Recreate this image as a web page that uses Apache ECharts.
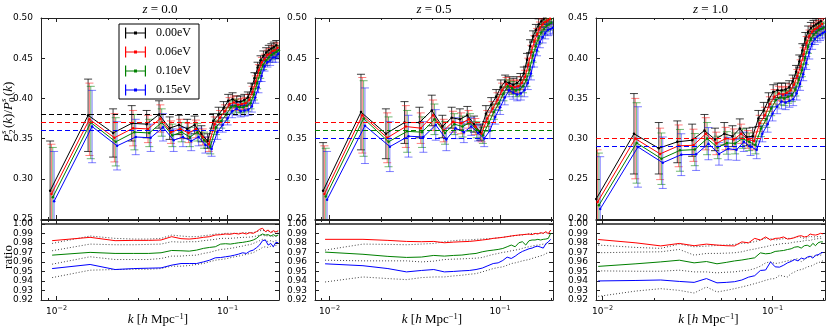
<!DOCTYPE html>
<html>
<head>
<meta charset="utf-8">
<script src="https://cdn.jsdelivr.net/npm/echarts@6/dist/echarts.min.js"></script>
<style>
  html, body { margin: 0; padding: 0; background: #fff; }
  #chart { width: 830px; height: 334px; }
</style>
</head>
<body>
<div id="chart"></div>
<script>
// ── DATA ───────────────────────────────────────────
const massLabels = ['0.00eV', '0.06eV', '0.10eV', '0.15eV'];
const massColors = ['#000000', '#ff0000', '#008000', '#0000ff'];
const errColors  = ['rgba(0,0,0,0.75)', 'rgba(255,0,0,0.5)', 'rgba(0,128,0,0.55)', 'rgba(0,0,255,0.5)'];
const redshifts  = ['0.0', '0.5', '1.0'];

const kValues = [0.00942, 0.01571, 0.02199, 0.02827, 0.03456, 0.04084, 0.04712, 0.05341, 0.05969, 0.06597,
  0.07226, 0.07854, 0.08482, 0.09111, 0.09739, 0.10367, 0.10996, 0.11624, 0.12252, 0.12881,
  0.13509, 0.14137, 0.14765, 0.15394, 0.16022, 0.16650, 0.17279, 0.17907, 0.18535, 0.19164, 0.19792];

const xMajorTicks = [0.01, 0.1];
const xMinorTicks = [0.008, 0.009, 0.02, 0.03, 0.04, 0.05, 0.06, 0.07, 0.08, 0.09, 0.2];
const upperTicksA = [0.25, 0.30, 0.35, 0.40, 0.45, 0.50];
const upperTicksB = [0.20, 0.25, 0.30, 0.35, 0.40, 0.45];
const ratioTicks  = [0.92, 0.93, 0.94, 0.95, 0.96, 0.97, 0.98, 0.99, 1.00];

// z = 0.0
const z00_m000 = [0.285, 0.379, 0.357, 0.369, 0.368, 0.380, 0.363, 0.367, 0.362, 0.367, 0.356, 0.347, 0.372, 0.380, 0.388, 0.397, 0.399, 0.396, 0.396, 0.398, 0.401, 0.412, 0.425, 0.438, 0.447, 0.453, 0.457, 0.460, 0.462, 0.464, 0.466];
const z00_m006 = [0.281, 0.374, 0.351, 0.363, 0.362, 0.375, 0.358, 0.362, 0.357, 0.362, 0.352, 0.343, 0.368, 0.376, 0.384, 0.393, 0.395, 0.392, 0.393, 0.394, 0.398, 0.408, 0.421, 0.435, 0.445, 0.449, 0.454, 0.456, 0.459, 0.460, 0.463];
const z00_m010 = [0.277, 0.370, 0.346, 0.358, 0.357, 0.370, 0.354, 0.358, 0.352, 0.358, 0.348, 0.340, 0.364, 0.372, 0.380, 0.389, 0.391, 0.389, 0.389, 0.391, 0.394, 0.405, 0.419, 0.432, 0.442, 0.447, 0.451, 0.454, 0.456, 0.458, 0.460];
const z00_m015 = [0.272, 0.365, 0.341, 0.352, 0.351, 0.364, 0.348, 0.352, 0.347, 0.352, 0.342, 0.337, 0.358, 0.367, 0.375, 0.384, 0.387, 0.384, 0.385, 0.386, 0.390, 0.401, 0.414, 0.428, 0.440, 0.445, 0.447, 0.451, 0.451, 0.455, 0.457];
const z00Err   = [0.062, 0.045, 0.030, 0.022, 0.017, 0.017, 0.014, 0.012, 0.012, 0.011, 0.010, 0.009, 0.009, 0.009, 0.008, 0.008, 0.008, 0.007, 0.007, 0.007, 0.007, 0.007, 0.007, 0.007, 0.006, 0.006, 0.006, 0.006, 0.006, 0.006, 0.006];
const z00Level = [0.3754, 0.3688, 0.3629, 0.3571];
const z00Ratio006 = [0.9823, 0.9858, 0.9823, 0.9826, 0.9826, 0.9830, 0.9865, 0.9844, 0.9840, 0.9847, 0.9858, 0.9865, 0.9882, 0.9886, 0.9893, 0.9890, 0.9900, 0.9893, 0.9904, 0.9893, 0.9907, 0.9900, 0.9918, 0.9942, 0.9953, 0.9918, 0.9935, 0.9907, 0.9928, 0.9914, 0.9928];
const z00Ratio010 = [0.9671, 0.9700, 0.9689, 0.9689, 0.9689, 0.9696, 0.9720, 0.9717, 0.9713, 0.9724, 0.9742, 0.9752, 0.9759, 0.9787, 0.9791, 0.9787, 0.9794, 0.9801, 0.9805, 0.9812, 0.9819, 0.9830, 0.9847, 0.9875, 0.9893, 0.9882, 0.9886, 0.9872, 0.9886, 0.9872, 0.9882];
const z00Ratio015 = [0.9530, 0.9573, 0.9520, 0.9530, 0.9534, 0.9537, 0.9566, 0.9583, 0.9583, 0.9583, 0.9600, 0.9618, 0.9643, 0.9646, 0.9654, 0.9661, 0.9671, 0.9682, 0.9696, 0.9689, 0.9713, 0.9724, 0.9749, 0.9777, 0.9823, 0.9830, 0.9777, 0.9794, 0.9759, 0.9805, 0.9801];
const z00Dot1 = [0.9794, 0.9872, 0.9847, 0.9840, 0.9840, 0.9847, 0.9882, 0.9872, 0.9865, 0.9865, 0.9875, 0.9882, 0.9893, 0.9893, 0.9900, 0.9900, 0.9900, 0.9900, 0.9904, 0.9907, 0.9907, 0.9907, 0.9918, 0.9925, 0.9935, 0.9918, 0.9918, 0.9918, 0.9911, 0.9918, 0.9914];
const z00Dot2 = [0.9717, 0.9787, 0.9780, 0.9780, 0.9784, 0.9787, 0.9812, 0.9808, 0.9812, 0.9812, 0.9823, 0.9830, 0.9837, 0.9847, 0.9847, 0.9847, 0.9851, 0.9854, 0.9858, 0.9858, 0.9861, 0.9865, 0.9872, 0.9882, 0.9882, 0.9872, 0.9875, 0.9872, 0.9865, 0.9868, 0.9865];
const z00Dot3 = [0.9576, 0.9654, 0.9625, 0.9625, 0.9625, 0.9636, 0.9661, 0.9661, 0.9668, 0.9671, 0.9689, 0.9700, 0.9717, 0.9731, 0.9735, 0.9742, 0.9749, 0.9759, 0.9766, 0.9777, 0.9780, 0.9794, 0.9808, 0.9823, 0.9837, 0.9830, 0.9812, 0.9823, 0.9812, 0.9823, 0.9815];
const z00Dot4 = [0.9435, 0.9513, 0.9520, 0.9523, 0.9523, 0.9530, 0.9555, 0.9555, 0.9562, 0.9573, 0.9583, 0.9601, 0.9618, 0.9625, 0.9632, 0.9643, 0.9654, 0.9661, 0.9671, 0.9678, 0.9689, 0.9696, 0.9717, 0.9731, 0.9752, 0.9759, 0.9752, 0.9766, 0.9759, 0.9773, 0.9773];

// z = 0.5
const z05_m000 = [0.285, 0.383, 0.356, 0.370, 0.370, 0.385, 0.365, 0.376, 0.374, 0.379, 0.368, 0.358, 0.381, 0.392, 0.402, 0.414, 0.421, 0.419, 0.417, 0.419, 0.423, 0.431, 0.448, 0.465, 0.477, 0.485, 0.492, 0.496, 0.499, 0.501, 0.503];
const z05_m006 = [0.281, 0.379, 0.351, 0.365, 0.363, 0.379, 0.360, 0.371, 0.369, 0.374, 0.365, 0.356, 0.375, 0.387, 0.398, 0.410, 0.418, 0.415, 0.414, 0.415, 0.419, 0.427, 0.442, 0.458, 0.471, 0.480, 0.488, 0.492, 0.495, 0.497, 0.499];
const z05_m010 = [0.278, 0.375, 0.346, 0.359, 0.358, 0.374, 0.357, 0.368, 0.365, 0.370, 0.361, 0.354, 0.369, 0.383, 0.394, 0.406, 0.415, 0.413, 0.410, 0.411, 0.415, 0.423, 0.436, 0.453, 0.465, 0.475, 0.482, 0.486, 0.490, 0.492, 0.494];
const z05_m015 = [0.274, 0.366, 0.340, 0.353, 0.352, 0.367, 0.349, 0.363, 0.358, 0.365, 0.357, 0.350, 0.360, 0.377, 0.389, 0.401, 0.410, 0.407, 0.405, 0.406, 0.410, 0.419, 0.431, 0.447, 0.460, 0.470, 0.476, 0.481, 0.485, 0.486, 0.488];
const z05Err   = [0.060, 0.047, 0.031, 0.026, 0.019, 0.019, 0.014, 0.013, 0.013, 0.011, 0.010, 0.010, 0.010, 0.009, 0.009, 0.009, 0.008, 0.008, 0.008, 0.008, 0.008, 0.008, 0.008, 0.008, 0.007, 0.007, 0.007, 0.007, 0.007, 0.007, 0.007];
const z05Level = [0.373, 0.3654, 0.3596, 0.353];
const z05Ratio006 = [0.9837, 0.9837, 0.9826, 0.9815, 0.9812, 0.9815, 0.9801, 0.9808, 0.9812, 0.9815, 0.9822, 0.9830, 0.9837, 0.9847, 0.9852, 0.9858, 0.9865, 0.9872, 0.9878, 0.9882, 0.9886, 0.9889, 0.9893, 0.9886, 0.9900, 0.9893, 0.9907, 0.9900, 0.9918, 0.9896, 0.9935];
const z05Ratio010 = [0.9703, 0.9680, 0.9658, 0.9647, 0.9651, 0.9668, 0.9661, 0.9668, 0.9672, 0.9682, 0.9689, 0.9706, 0.9717, 0.9724, 0.9731, 0.9741, 0.9759, 0.9777, 0.9759, 0.9801, 0.9812, 0.9777, 0.9822, 0.9830, 0.9830, 0.9837, 0.9830, 0.9837, 0.9840, 0.9847, 0.9900];
const z05Ratio015 = [0.9580, 0.9560, 0.9530, 0.9495, 0.9510, 0.9520, 0.9495, 0.9500, 0.9506, 0.9510, 0.9520, 0.9535, 0.9560, 0.9583, 0.9590, 0.9615, 0.9650, 0.9636, 0.9660, 0.9689, 0.9710, 0.9724, 0.9738, 0.9745, 0.9759, 0.9765, 0.9755, 0.9745, 0.9790, 0.9810, 0.9837];
const z05Dot1 = [0.9724, 0.9787, 0.9784, 0.9780, 0.9787, 0.9794, 0.9812, 0.9823, 0.9830, 0.9830, 0.9837, 0.9840, 0.9844, 0.9847, 0.9854, 0.9858, 0.9865, 0.9872, 0.9875, 0.9882, 0.9882, 0.9889, 0.9893, 0.9900, 0.9893, 0.9900, 0.9900, 0.9900, 0.9907, 0.9900, 0.9907];
const z05Dot2 = [0.9618, 0.9611, 0.9611, 0.9611, 0.9600, 0.9608, 0.9625, 0.9629, 0.9632, 0.9636, 0.9639, 0.9646, 0.9664, 0.9678, 0.9689, 0.9700, 0.9706, 0.9717, 0.9724, 0.9731, 0.9742, 0.9752, 0.9759, 0.9766, 0.9773, 0.9777, 0.9780, 0.9787, 0.9787, 0.9791, 0.9794];
const z05Dot3 = [0.9389, 0.9442, 0.9425, 0.9414, 0.9435, 0.9442, 0.9442, 0.9453, 0.9460, 0.9470, 0.9477, 0.9495, 0.9513, 0.9530, 0.9541, 0.9548, 0.9565, 0.9583, 0.9590, 0.9600, 0.9611, 0.9618, 0.9625, 0.9636, 0.9646, 0.9654, 0.9664, 0.9671, 0.9689, 0.9696, 0.9706];

// z = 1.0
const z10_m000 = [0.225, 0.306, 0.288, 0.296, 0.298, 0.310, 0.299, 0.306, 0.303, 0.3125, 0.302, 0.303, 0.325, 0.335, 0.348, 0.358, 0.360, 0.360, 0.361, 0.364, 0.371, 0.383, 0.396, 0.410, 0.424, 0.433, 0.4375, 0.440, 0.442, 0.444, 0.446];
const z10_m006 = [0.221, 0.300, 0.281, 0.291, 0.2917, 0.306, 0.294, 0.300, 0.299, 0.306, 0.299, 0.297, 0.319, 0.329, 0.343, 0.352, 0.356, 0.355, 0.357, 0.360, 0.367, 0.378, 0.390, 0.405, 0.419, 0.428, 0.433, 0.436, 0.438, 0.440, 0.4425];
const z10_m010 = [0.217, 0.2946, 0.275, 0.2854, 0.2863, 0.300, 0.289, 0.2946, 0.294, 0.300, 0.296, 0.292, 0.3125, 0.324, 0.3375, 0.348, 0.351, 0.350, 0.352, 0.354, 0.361, 0.373, 0.385, 0.400, 0.414, 0.424, 0.429, 0.432, 0.435, 0.436, 0.438];
const z10_m015 = [0.2125, 0.2896, 0.270, 0.280, 0.2804, 0.2937, 0.281, 0.2875, 0.286, 0.296, 0.290, 0.286, 0.306, 0.318, 0.331, 0.340, 0.346, 0.345, 0.347, 0.349, 0.356, 0.368, 0.380, 0.394, 0.407, 0.418, 0.424, 0.427, 0.429, 0.431, 0.433];
const z10Err   = [0.065, 0.050, 0.032, 0.026, 0.020, 0.020, 0.014, 0.014, 0.013, 0.012, 0.011, 0.011, 0.010, 0.010, 0.009, 0.009, 0.009, 0.009, 0.008, 0.008, 0.008, 0.008, 0.008, 0.008, 0.008, 0.007, 0.007, 0.007, 0.007, 0.007, 0.007];
const z10Level = [0.303, 0.2967, 0.291, 0.2854];
const z10Ratio006 = [0.9835, 0.9800, 0.9768, 0.9794, 0.9770, 0.9787, 0.9777, 0.9770, 0.9768, 0.9810, 0.9800, 0.9847, 0.9830, 0.9862, 0.9830, 0.9847, 0.9850, 0.9862, 0.9840, 0.9845, 0.9855, 0.9870, 0.9875, 0.9862, 0.9868, 0.9893, 0.9885, 0.9882, 0.9889, 0.9900, 0.9895];
const z10Ratio010 = [0.9553, 0.9580, 0.9600, 0.9618, 0.9590, 0.9604, 0.9580, 0.9595, 0.9610, 0.9620, 0.9632, 0.9643, 0.9695, 0.9685, 0.9690, 0.9710, 0.9715, 0.9720, 0.9730, 0.9738, 0.9755, 0.9760, 0.9745, 0.9770, 0.9775, 0.9760, 0.9795, 0.9770, 0.9800, 0.9810, 0.9810];
const z10Ratio015 = [0.9400, 0.9405, 0.9410, 0.9395, 0.9385, 0.9425, 0.9380, 0.9385, 0.9392, 0.9410, 0.9440, 0.9455, 0.9510, 0.9515, 0.9600, 0.9548, 0.9545, 0.9565, 0.9590, 0.9605, 0.9625, 0.9610, 0.9640, 0.9630, 0.9650, 0.9660, 0.9640, 0.9670, 0.9675, 0.9690, 0.9700];
const z10Dot1 = [0.9777, 0.9752, 0.9742, 0.9787, 0.9759, 0.9766, 0.9773, 0.9777, 0.9784, 0.9794, 0.9801, 0.9812, 0.9830, 0.9847, 0.9844, 0.9830, 0.9837, 0.9844, 0.9847, 0.9847, 0.9858, 0.9865, 0.9858, 0.9847, 0.9854, 0.9872, 0.9858, 0.9865, 0.9865, 0.9865, 0.9865];
const z10Dot2 = [0.9696, 0.9703, 0.9706, 0.9731, 0.9671, 0.9689, 0.9689, 0.9692, 0.9696, 0.9706, 0.9724, 0.9735, 0.9749, 0.9759, 0.9773, 0.9780, 0.9787, 0.9794, 0.9794, 0.9801, 0.9808, 0.9812, 0.9815, 0.9823, 0.9830, 0.9823, 0.9837, 0.9840, 0.9844, 0.9847, 0.9847];
const z10Dot3 = [0.9506, 0.9502, 0.9502, 0.9513, 0.9495, 0.9495, 0.9485, 0.9492, 0.9495, 0.9506, 0.9513, 0.9530, 0.9555, 0.9590, 0.9601, 0.9583, 0.9590, 0.9601, 0.9611, 0.9618, 0.9625, 0.9636, 0.9601, 0.9625, 0.9646, 0.9654, 0.9661, 0.9661, 0.9668, 0.9671, 0.9675];
const z10Dot4 = [0.9238, 0.9294, 0.9319, 0.9301, 0.9273, 0.9337, 0.9284, 0.9301, 0.9319, 0.9337, 0.9354, 0.9372, 0.9389, 0.9407, 0.9421, 0.9425, 0.9460, 0.9449, 0.9442, 0.9477, 0.9495, 0.9513, 0.9520, 0.9530, 0.9548, 0.9555, 0.9562, 0.9583, 0.9590, 0.9601, 0.9611];

// ── LAYOUT ─────────────────────────────────────────
const SERIF = '"Liberation Serif", "DejaVu Serif", serif';
const SANS = '"DejaVu Sans", sans-serif';
const FRAME = '#222';
const X_SHIFT = 0.0078;   // small horizontal offset between masses (log decades)

const panels = [
  { z: redshifts[0], left: 41, width: 238, xMin: -2.091, xMax: -0.699, yTicks: upperTicksA,
    upper: [z00_m000, z00_m006, z00_m010, z00_m015], err: z00Err, levels: z00Level,
    ratio: [z00Ratio006, z00Ratio010, z00Ratio015], dots: [z00Dot1, z00Dot2, z00Dot3, z00Dot4] },
  { z: redshifts[1], left: 315, width: 238, xMin: -2.085, xMax: -0.690, yTicks: upperTicksA,
    upper: [z05_m000, z05_m006, z05_m010, z05_m015], err: z05Err, levels: z05Level,
    ratio: [z05Ratio006, z05Ratio010, z05Ratio015], dots: [z05Dot1, z05Dot2, z05Dot3] },
  { z: redshifts[2], left: 596, width: 229, xMin: -2.039, xMax: -0.691, yTicks: upperTicksB,
    upper: [z10_m000, z10_m006, z10_m010, z10_m015], err: z10Err, levels: z10Level,
    ratio: [z10Ratio006, z10Ratio010, z10Ratio015], dots: [z10Dot1, z10Dot2, z10Dot3, z10Dot4] },
];

const grids = [], xAxes = [], yAxes = [], series = [], graphics = [];

function tickLogs(list, p) {
  return list.map(k => Math.log10(k)).filter(v => v >= p.xMin - 1e-9 && v <= p.xMax + 1e-9);
}

function addGrid(p, top, height, yMin, yMax, yTicks, showXLabels) {
  const g = grids.length;
  grids.push({ left: p.left, width: p.width, top, height });
  const majors = tickLogs(xMajorTicks, p);
  const minors = tickLogs(xMinorTicks, p);
  const base = { gridIndex: g, type: 'value', min: p.xMin, max: p.xMax, splitLine: { show: false } };
  ['bottom', 'top'].forEach(pos => {
    xAxes.push({
      ...base, position: pos,
      axisLine: { show: true, lineStyle: { color: FRAME, width: 1 } },
      axisTick: { show: true, inside: true, length: 4, customValues: majors, lineStyle: { color: FRAME } },
      axisLabel: {
        show: pos === 'bottom' && showXLabels, customValues: majors, margin: 5,
        formatter: v => `{b|10}{s|${Math.round(v) < 0 ? '\u2212' : ''}${Math.abs(Math.round(v))}}`,
        rich: {
          b: { fontFamily: SANS, fontSize: 9, color: '#000', lineHeight: 13 },
          s: { fontFamily: SANS, fontSize: 6.5, color: '#000', verticalAlign: 'top', lineHeight: 13 },
        },
      },
    });
    xAxes.push({
      ...base, position: pos,
      axisLine: { show: false },
      axisTick: { show: true, inside: true, length: 2, customValues: minors, lineStyle: { color: FRAME } },
      axisLabel: { show: false },
    });
  });
  ['left', 'right'].forEach(pos => {
    yAxes.push({
      gridIndex: g, type: 'value', position: pos, min: yMin, max: yMax,
      splitLine: { show: false },
      axisLine: { show: true, lineStyle: { color: FRAME, width: 1 } },
      axisTick: { show: true, inside: true, length: 4, customValues: yTicks, lineStyle: { color: FRAME } },
      axisLabel: {
        show: pos === 'left', customValues: yTicks, margin: 8,
        formatter: v => v.toFixed(2), fontFamily: SANS, fontSize: 9, color: '#000',
      },
    });
  });
  return g;
}

function renderErrorBar(params, api) {
  const x = api.value(0);
  const lo = api.coord([x, api.value(1)]);
  const hi = api.coord([x, api.value(2)]);
  const cap = 4;
  const style = { stroke: api.visual('color'), lineWidth: 1 };
  return {
    type: 'group',
    children: [
      { type: 'line', shape: { x1: lo[0], y1: lo[1], x2: hi[0], y2: hi[1] }, style },
      { type: 'line', shape: { x1: lo[0] - cap, y1: lo[1], x2: lo[0] + cap, y2: lo[1] }, style },
      { type: 'line', shape: { x1: hi[0] - cap, y1: hi[1], x2: hi[0] + cap, y2: hi[1] }, style },
    ],
  };
}

panels.forEach((p, pi) => {
  const yT = p.yTicks;
  const gu = addGrid(p, 18, 201, yT[0], yT[yT.length - 1], yT, false);
  const gl = addGrid(p, 220, 80, 0.92, 1.004, ratioTicks, true);

  // upper: P2/P0 with error bars and dashed reference levels
  p.upper.forEach((vals, i) => {
    const xs = kValues.map(k => Math.log10(k) + (i - 1.5) * X_SHIFT);
    series.push({
      type: 'custom', name: 'err' + pi + i, xAxisIndex: gu * 4, yAxisIndex: gu * 2,
      clip: true, z: 2, silent: true, renderItem: renderErrorBar,
      itemStyle: { color: errColors[i] },
      encode: { x: 0, y: [1, 2] },
      data: vals.map((v, j) => [xs[j], v - p.err[j], v + p.err[j]]),
    });
    series.push({
      type: 'line', name: pi === 0 ? massLabels[i] : massLabels[i] + ' z' + p.z,
      xAxisIndex: gu * 4, yAxisIndex: gu * 2, z: 3,
      symbol: 'circle', symbolSize: 2.5, showSymbol: true,
      itemStyle: { color: massColors[i] },
      lineStyle: { color: massColors[i], width: 1 },
      data: vals.map((v, j) => [xs[j], v]),
      markLine: {
        silent: true, symbol: ['none', 'none'], label: { show: false },
        lineStyle: { color: massColors[i], type: [5, 3], width: 1.2 },
        data: [{ yAxis: p.levels[i] }],
      },
    });
  });

  // lower: ratios to the massless case
  const xs0 = kValues.map(k => Math.log10(k));
  p.dots.forEach((vals, d) => {
    series.push({
      type: 'line', name: 'dot' + pi + d, xAxisIndex: gl * 4, yAxisIndex: gl * 2,
      symbol: 'none', z: 2,
      lineStyle: { color: '#444', width: 1, type: [1, 2] },
      data: vals.map((v, j) => [xs0[j], v]),
    });
  });
  p.ratio.forEach((vals, r) => {
    series.push({
      type: 'line', name: 'ratio' + pi + r, xAxisIndex: gl * 4, yAxisIndex: gl * 2,
      symbol: 'none', z: 3,
      lineStyle: { color: massColors[r + 1], width: 1 },
      data: vals.map((v, j) => [xs0[j], v]),
      markLine: r === 0 ? {
        silent: true, symbol: ['none', 'none'], label: { show: false },
        lineStyle: { color: '#222', type: 'solid', width: 1.5 },
        data: [{ yAxis: 1.0 }],
      } : undefined,
    });
  });

  // title and x-axis name
  const cx = p.left + p.width / 2;
  graphics.push({
    type: 'text', x: cx, y: 10,
    style: {
      text: '{i|z} {r|=} {r|' + p.z + '}',
      font: '13px ' + SERIF, fill: '#000', align: 'center', verticalAlign: 'middle',
      rich: {
        i: { fontFamily: SERIF, fontStyle: 'italic', fontSize: 13 },
        r: { fontFamily: SERIF, fontSize: 13 },
      },
    },
  });
  graphics.push({
    type: 'text', x: cx - 2, y: 320,
    style: {
      text: '{i|k} {r|[}{i|h} {r|Mpc}{s|\u22121}{r|]}',
      font: '13px ' + SERIF, fill: '#000', align: 'center', verticalAlign: 'middle',
      rich: {
        i: { fontFamily: SERIF, fontStyle: 'italic', fontSize: 13, lineHeight: 16 },
        r: { fontFamily: SERIF, fontSize: 13, lineHeight: 16 },
        s: { fontFamily: SERIF, fontSize: 8.5, lineHeight: 16, verticalAlign: 'top' },
      },
    },
  });
});

// y-axis names (rotated)
const ylab = (txt, x, y, size, it) => ({
  type: 'text', x, y,
  style: { text: txt, font: (it ? 'italic ' : '') + size + 'px ' + SERIF, fill: '#000', verticalAlign: 'middle' },
});
const richParts = { r: { fontFamily: SERIF, fontSize: 13 }, i: { fontFamily: SERIF, fontSize: 13, fontStyle: 'italic' } };
graphics.push({
  type: 'group', x: 9, y: 112, rotation: Math.PI / 2,
  children: [
    ylab('P', -30, 0, 13, true),
    ylab('s', -22, -5, 9, true),
    ylab('2', -22, 4, 9, false),
    { type: 'text', x: -16, y: 0,
      style: { text: '{r|(}{i|k}{r|)/}{i|P}', verticalAlign: 'middle', fill: '#000', rich: richParts } },
    ylab('s', 10, -5, 9, true),
    ylab('0', 10, 4, 9, false),
    { type: 'text', x: 16, y: 0,
      style: { text: '{r|(}{i|k}{r|)}', verticalAlign: 'middle', fill: '#000', rich: richParts } },
  ],
});
graphics.push({
  type: 'text', x: 9, y: 257, rotation: Math.PI / 2,
  style: { text: 'ratio', font: '13px ' + SERIF, fill: '#000', align: 'center', verticalAlign: 'middle' },
});

// legend icon: error bar with caps and a dot
const errIcon = 'path://M0,0h1.2v11h-1.2z M19.8,0h1.2v11h-1.2z M0,5h21v1h-21z M9,4h3v3h-3z';

const chart = echarts.init(document.getElementById('chart'));
chart.setOption({
  animation: false,
  backgroundColor: '#fff',
  grid: grids,
  xAxis: xAxes,
  yAxis: yAxes,
  series,
  graphic: graphics,
  legend: {
    left: 119, top: 24, orient: 'vertical',
    padding: [2, 8, 2, 6], itemGap: 5, itemWidth: 21, itemHeight: 11,
    borderColor: '#000', borderWidth: 1, borderRadius: 0, backgroundColor: '#fff',
    selectedMode: false, symbolKeepAspect: false,
    itemStyle: { borderWidth: 0 },
    textStyle: { fontFamily: SERIF, fontSize: 12, color: '#000', lineHeight: 14, padding: [0, 0, 0, 5] },
    data: massLabels.map((name, i) => ({ name, icon: errIcon, itemStyle: { color: massColors[i] } })),
  },
});
</script>
</body>
</html>
